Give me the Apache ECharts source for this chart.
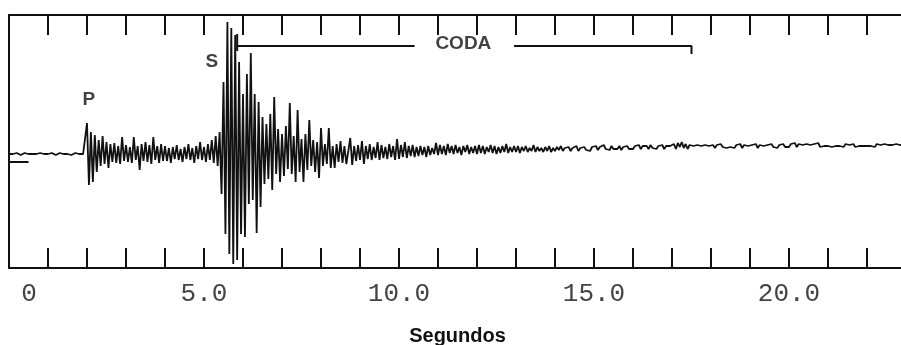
<!DOCTYPE html>
<html><head><meta charset="utf-8">
<script src="https://cdn.jsdelivr.net/npm/echarts@6/dist/echarts.min.js"></script>
<style>html,body{margin:0;padding:0;background:#fff}#c{width:901px;height:345px}</style>
</head><body><div id="c"></div>
<script>
// Seismogram trace: amplitude samples every 0.05 s (one row = one second)
const sampleStep = 0.05;
const traceValues = [
  0, 1, 0, 0, 1, 0, -1, 0, 1, 0, 0, 1, 0, -1, 0, 0, 1, 0, 0, 1,
  0, 0, 1, 0, -1, 0, 1, 0, 0, 1, 0, 0, -1, 0, 1, 0, 0, 1, 0, 0,
  31, -31, 22, -28, 19, -18, 14, -12, 18, -10, 12, -14, 10, -8, 11, -9, 8, -10, 17, -7,
  9, -8, 7, -9, 17, -6, 8, -16, 10, -7, 12, -8, 9, -10, 17, -6, 8, -9, 10, -7,
  8, -7, 6, -9, 7, -5, 9, -6, 5, -8, 7, -5, 10, -6, 6, -9, 8, -5, 12, -6,
  7, -8, 10, -6, 14, -9, 18, -12, 22, -40, 72, -80, 132, -100, 126, -110, 119, -106, 92, -80,
  60, -83, 80, -50, 101, -46, 60, -79, 52, -53, 37, -30, 30, -25, 40, -36, 57, -20, 25, -28,
  20, -22, 28, -15, 51, -20, 18, -28, 44, -18, 15, -28, 20, -16, 34, -12, 14, -18, 12, -24,
  26, -12, 10, -10, 26, -14, 8, -14, 10, -8, 13, -9, 8, -10, 3, 16, -11, 8, -7, 9,
  -6, 13, -10, 8, -5, 10, -6, 7, -4, 12, -6, 9, -4, 7, -5, 10, -3, 8, -6, 15,
  -5, 9, -3, 12, -4, 8, -2, 9, -3, 7, -2, 8, -1, 7, -3, 8, -1, 6, 0, 11,
  -1, 9, 0, 8, -1, 10, 1, 8, 0, 9, 1, 7, -1, 8, 2, 9, 0, 7, 1, 8,
  0, 9, 1, 8, 0, 7, 2, 9, 1, 8, 0, 7, 1, 8, 2, 10, 1, 7, 2, 8,
  2, 8, 1, 7, 3, 8, 2, 6, 3, 9, 2, 7, 3, 6, 2, 7, 3, 8, 2, 6,
  3, 7, 4, 8, 3, 6, 4, 7, 3, 6, 4, 8, 3, 6, 4, 7, 4, 6, 3, 7,
  5, 8, 4, 7, 5, 9, 5, 7, 4, 8, 5, 7, 5, 8, 4, 7, 5, 8, 5, 7,
  5, 8, 6, 9, 5, 8, 6, 8, 5, 9, 6, 8, 5, 8, 6, 9, 5, 8, 6, 8,
  6, 10, 5, 11, 7, 12, 6, 10, 5, 9, 7, 8, 6, 9, 7, 8, 6, 9, 7, 8,
  7, 9, 6, 9, 7, 10, 7, 9, 6, 8, 7, 9, 6, 9, 7, 10, 6, 9, 7, 8,
  7, 9, 7, 10, 6, 9, 7, 8, 6, 9, 8, 10, 7, 9, 6, 9, 7, 10, 7, 9,
  7, 10, 8, 11, 7, 10, 8, 9, 7, 10, 8, 9, 7, 10, 8, 11, 7, 9, 8, 10,
  8, 10, 7, 9, 8, 10, 8, 9, 7, 10, 8, 9, 8, 10, 7, 9, 8, 10, 8, 9,
  8, 10, 8, 9, 7, 10, 8, 9, 8, 10, 8, 9, 7, 9, 8, 10, 8, 9, 8, 9,
  8
];
const labelValues = [0, 5, 10, 15, 20];
const tickLabels = ['0', '5.0', '10.0', '15.0', '20.0'];
const phaseNames = ['P', 'S'];
const phaseTimes = [2.05, 5.2];
const phaseLevels = [54, 92];
const codaName = 'CODA';
const codaTime = 11.65;
const codaTextLevel = 110;
const codaStart = 5.85, codaEnd = 17.5;
const codaGapStart = 10.4, codaGapEnd = 12.95;
const codaLevel = 108;
const codaTickTop = 120, codaTickBottom = 103, codaHookBottom = 100;
const baseMarkLevel = -8, baseMarkEnd = 0.5;

const ink = '#111';
const chart = echarts.init(document.getElementById('c'), null, {renderer: 'canvas'});
const traceData = traceValues.map((v, i) => [+(i * sampleStep).toFixed(2), v]);
const lineStyleBr = {color: ink, width: 2};
function bracket(data) {
  return {type: 'line', data: data, symbol: 'none', silent: true, lineStyle: lineStyleBr, z: 3};
}
const labelFont = {fontFamily: 'Liberation Mono', fontSize: 26, color: '#444'};

chart.setOption({
  animation: false,
  backgroundColor: '#fff',
  grid: {left: 9, top: 15, width: 897, height: 253, outerBoundsMode: 'none', containLabel: false},
  xAxis: [{
    type: 'value', min: 0, max: 23, interval: 1, position: 'bottom',
    axisLine: {show: true, onZero: false, lineStyle: {color: ink, width: 2}},
    axisTick: {show: true, inside: true, length: 20, lineStyle: {color: ink, width: 2}},
    splitLine: {show: false},
    axisLabel: Object.assign({
      margin: 13, showMaxLabel: false,
      formatter: function (val) {
        const k = labelValues.indexOf(val);
        if (k < 0) return '';
        return k === 0 ? '{z|' + tickLabels[k] + '}' : tickLabels[k];
      },
      rich: {z: Object.assign({padding: [0, 0, 0, 40]}, labelFont)}
    }, labelFont),
    name: 'Segundos', nameLocation: 'middle', nameGap: 58,
    nameTextStyle: {fontFamily: 'Liberation Sans', fontWeight: 'bold', fontSize: 20, color: ink}
  }, {
    type: 'value', min: 0, max: 23, interval: 1, position: 'top',
    axisLine: {show: true, onZero: false, lineStyle: {color: ink, width: 2}},
    axisTick: {show: true, inside: true, length: 20, lineStyle: {color: ink, width: 2}},
    splitLine: {show: false}, axisLabel: {show: false}
  }],
  yAxis: {
    type: 'value', min: -114, max: 139,
    axisLine: {show: true, onZero: false, lineStyle: {color: ink, width: 2}},
    axisTick: {show: false}, axisLabel: {show: false}, splitLine: {show: false}
  },
  series: [
    {type: 'line', data: traceData, symbol: 'none', silent: true,
     lineStyle: {color: ink, width: 1.8}, z: 2},
    bracket([[0, baseMarkLevel], [baseMarkEnd, baseMarkLevel]]),
    bracket([[codaStart, codaTickTop], [codaStart, codaTickBottom]]),
    bracket([[codaStart, codaLevel], [codaGapStart, codaLevel]]),
    bracket([[codaGapEnd, codaLevel], [codaEnd, codaLevel], [codaEnd, codaHookBottom]]),
    {type: 'scatter', symbolSize: 0, silent: true, z: 4,
     data: phaseNames.map((n, i) => ({name: n, value: [phaseTimes[i], phaseLevels[i]]})),
     label: {show: true, position: 'inside', formatter: '{b}',
       fontFamily: 'Liberation Sans', fontWeight: 'bold', fontSize: 19, color: ink}},
    {type: 'scatter', symbolSize: 0, silent: true, z: 4,
     data: [{name: codaName, value: [codaTime, codaTextLevel]}],
     label: {show: true, position: 'inside', formatter: '{b}',
       fontFamily: 'Liberation Sans', fontWeight: 'bold', fontSize: 19, color: ink}}
  ]
});
</script></body></html>
